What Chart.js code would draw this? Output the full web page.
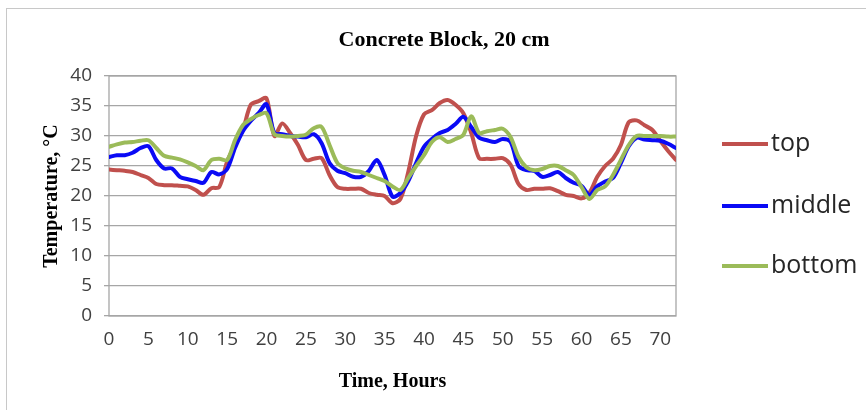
<!DOCTYPE html>
<html>
<head>
<meta charset="utf-8">
<script src="https://cdn.jsdelivr.net/npm/chart.js@4.4.1/dist/chart.umd.min.js"></script>
<style>
  html, body { margin: 0; padding: 0; background: #ffffff; }
  #wrap { position: relative; width: 866px; height: 410px; overflow: hidden; }
  #frame { position: absolute; left: 6px; top: 8px; width: 900px; height: 500px; border: 1px solid #c8c8c8; }
  #c { position: absolute; left: 0; top: 0; }
</style>
</head>
<body>
<div id="wrap">
  <div id="frame"></div>
  <canvas id="c" width="866" height="410"></canvas>
</div>
<script>
// Hourly readings over three days
const hours = [0,1,2,3,4,5,6,7,8,9,10,11,12,13,14,15,16,17,18,19,20,21,22,23,24,
  25,26,27,28,29,30,31,32,33,34,35,36,37,38,39,40,41,42,43,44,45,46,47,48,49,
  50,51,52,53,54,55,56,57,58,59,60,61,62,63,64,65,66,67,68,69,70,71,72];

const topTemp = [24.4,24.3,24.2,24.0,23.5,23.0,22.0,21.8,21.8,21.7,21.6,21.0,20.2,21.3,21.5,25.7,
  28.5,31.0,35.2,35.8,36.3,30.0,32.1,30.5,28.5,26.0,26.2,26.3,23.5,21.5,21.2,21.2,21.2,
  20.5,20.2,20.0,18.8,19.5,24.0,30.0,33.6,34.3,35.5,36.0,35.2,33.8,30.5,26.3,26.2,26.2,
  26.3,25.2,22.0,21.0,21.2,21.2,21.3,20.8,20.2,20.0,19.6,20.5,23.2,25.0,26.2,28.5,32.3,
  32.6,31.8,31.0,29.2,27.5,26.0];

const middleTemp = [26.5,26.8,26.8,27.2,28.0,28.3,26.0,24.6,24.6,23.2,22.8,22.5,22.2,24.0,23.6,24.5,
  28.0,30.8,32.5,33.8,35.3,30.5,30.3,30.0,29.9,29.8,30.3,28.8,25.5,24.2,23.8,23.2,23.2,
  24.2,26.0,23.5,19.9,20.5,22.5,25.5,28.2,29.5,30.5,31.0,32.0,33.2,31.5,29.7,29.3,29.0,
  29.5,29.0,25.0,24.3,24.2,23.2,23.5,24.0,23.0,22.2,21.7,20.2,21.6,22.4,23.0,25.5,28.3,
  29.7,29.4,29.3,29.2,28.7,28.0];

const bottomTemp = [28.2,28.6,28.9,29.0,29.2,29.3,28.0,26.7,26.4,26.1,25.6,25.0,24.3,26.0,26.2,26.0,
  29.3,31.8,32.8,33.5,33.8,30.3,30.0,29.9,30.0,30.2,31.3,31.5,28.5,25.5,24.6,24.2,24.0,
  23.5,23.0,22.5,21.6,21.0,23.0,25.0,26.8,29.0,29.8,29.0,29.5,30.2,33.3,30.5,30.8,31.0,
  31.2,29.8,26.5,24.8,24.3,24.5,25.0,25.0,24.3,23.5,21.5,19.5,21.0,21.6,23.5,26.0,28.5,
  30.0,30.0,30.0,30.0,29.9,29.9];

const seriesNames = ['top', 'middle', 'bottom'];
const seriesColors = ['#c0504d', '#0a0af5', '#9bbb59'];
const yTicks = [0, 5, 10, 15, 20, 25, 30, 35, 40];
const xTicks = [0, 5, 10, 15, 20, 25, 30, 35, 40, 45, 50, 55, 60, 65, 70];

const chartTitle = 'Concrete Block, 20 cm';
const xTitle = 'Time, Hours';
const yTitle = 'Temperature, \u00B0C';

const gridColor = '#a6a6a6';
const tickFont = { family: '"Open Sans", sans-serif', size: 19 };

function points(values) {
  return hours.map((h, i) => ({ x: h, y: values[i] }));
}

// Plot-area outline, centred title and legend on the right
const decor = {
  id: 'decor',
  beforeDatasetsDraw(chart) {
    const { ctx, chartArea: a } = chart;
    ctx.save();
    ctx.strokeStyle = gridColor;
    ctx.lineWidth = 1.3;
    ctx.strokeRect(a.left, a.top, a.right - a.left, a.bottom - a.top);
    ctx.restore();
  },
  afterDraw(chart) {
    const ctx = chart.ctx;
    ctx.save();
    ctx.fillStyle = '#000000';
    ctx.font = 'bold 22px "Liberation Serif", serif';
    ctx.textAlign = 'center';
    ctx.textBaseline = 'middle';
    ctx.fillText(chartTitle, 444, 40);

    const rows = [144, 206, 266];
    ctx.font = '25px "Open Sans", sans-serif';
    ctx.textAlign = 'left';
    chart.data.datasets.forEach((ds, i) => {
      const y = rows[i];
      ctx.strokeStyle = ds.borderColor;
      ctx.lineWidth = 4;
      ctx.beginPath();
      ctx.moveTo(722, y);
      ctx.lineTo(768, y);
      ctx.stroke();
      ctx.fillStyle = '#262626';
      ctx.fillText(ds.label, 771, y);
    });
    ctx.restore();
  }
};

new Chart(document.getElementById('c'), {
  type: 'line',
  data: {
    datasets: [
      { label: seriesNames[0], data: points(topTemp), borderColor: seriesColors[0], order: 3 },
      { label: seriesNames[1], data: points(middleTemp), borderColor: seriesColors[1], order: 2 },
      { label: seriesNames[2], data: points(bottomTemp), borderColor: seriesColors[2], order: 1 }
    ]
  },
  options: {
    responsive: false,
    animation: false,
    devicePixelRatio: 1,
    layout: { padding: { left: 40, right: 190, top: 76, bottom: 0 } },
    elements: {
      line: { borderWidth: 4, tension: 0.3, borderCapStyle: 'round', borderJoinStyle: 'round', fill: false },
      point: { radius: 0, hoverRadius: 0 }
    },
    plugins: {
      legend: { display: false },
      title: { display: false },
      tooltip: { enabled: false }
    },
    scales: {
      x: {
        type: 'linear',
        min: 0,
        max: 72,
        afterFit(s) { s.height = 94; },
        afterBuildTicks(s) { s.ticks = xTicks.map(v => ({ value: v })); },
        ticks: { font: tickFont, color: '#404040', padding: 12, maxRotation: 0, autoSkip: false, includeBounds: false },
        grid: { display: false, drawTicks: false },
        border: { display: false },
        title: {
          display: true,
          text: xTitle,
          color: '#000000',
          font: { family: '"Liberation Serif", serif', size: 20, weight: 'bold' },
          padding: { top: 0, bottom: 16 }
        }
      },
      y: {
        min: 0,
        max: 40,
        afterFit(s) { s.width = 69; },
        afterBuildTicks(s) { s.ticks = yTicks.map(v => ({ value: v })); },
        ticks: { font: tickFont, color: '#404040', padding: 12 },
        grid: { color: gridColor, lineWidth: 1.3, tickLength: 5, tickColor: gridColor },
        border: { display: false },
        title: {
          display: true,
          text: yTitle,
          color: '#000000',
          font: { family: '"Liberation Serif", serif', size: 20, weight: 'bold' },
          padding: { top: 0, bottom: 0 }
        }
      }
    }
  },
  plugins: [decor]
});
</script>
</body>
</html>
